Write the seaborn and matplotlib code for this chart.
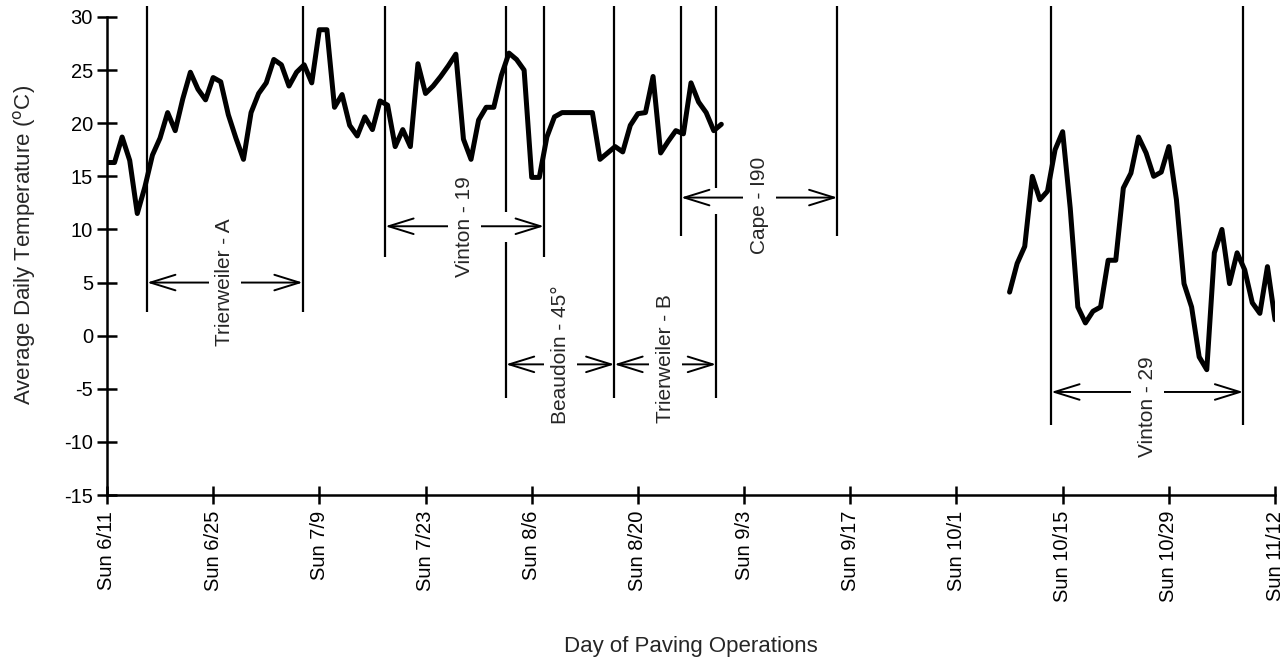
import pandas as pd
import matplotlib.pyplot as plt
import seaborn as sns

# daily mean temperature, two measuring periods (day 0 = Sun 6/11)
summer_first_day = 0
summer_temp = [16.3, 16.3, 18.7, 16.5, 11.5, 14.0, 17.0, 18.6, 21.0, 19.3,
               22.3, 24.8, 23.2, 22.2, 24.3, 23.9, 20.8, 18.6, 16.6, 21.0,
               22.8, 23.8, 26.0, 25.5, 23.5, 24.8, 25.5, 23.8, 28.8, 28.8,
               21.5, 22.7, 19.8, 18.8, 20.6, 19.4, 22.1, 21.7, 17.8, 19.4,
               17.8, 25.6, 22.8, 23.5, 24.4, 25.4, 26.5, 18.5, 16.6, 20.3,
               21.5, 21.5, 24.5, 26.6, 26.0, 25.0, 14.9, 14.9, 18.7, 20.6,
               21.0, 21.0, 21.0, 21.0, 21.0, 16.6, 17.2, 17.8, 17.3, 19.8,
               20.9, 21.0, 24.4, 17.2, 18.3, 19.3, 19.0, 23.8, 22.0, 21.0,
               19.3, 19.9]
fall_first_day = 119
fall_temp = [4.1, 6.8, 8.4, 15.0, 12.8, 13.6, 17.5, 19.2, 12.0, 2.7,
             1.2, 2.3, 2.7, 7.1, 7.1, 13.9, 15.3, 18.7, 17.2, 15.0,
             15.4, 17.8, 12.8, 4.9, 2.7, -2.0, -3.2, 7.8, 10.0, 4.9,
             7.8, 6.2, 3.1, 2.1, 6.5, 1.5]

tick_days = [0, 14, 28, 42, 56, 70, 84, 98, 112, 126, 140, 154]
tick_labels = ['Sun 6/11', 'Sun 6/25', 'Sun 7/9', 'Sun 7/23', 'Sun 8/6',
               'Sun 8/20', 'Sun 9/3', 'Sun 9/17', 'Sun 10/1', 'Sun 10/15',
               'Sun 10/29', 'Sun 11/12']

# paving jobs: name, first day, last day, level of the arrow (°C)
job_names = ['Trierweiler - A', 'Vinton - 19', 'Beaudoin - 45°',
             'Trierweiler - B', 'Cape - I90', 'Vinton - 29']
job_start = [5.3, 36.7, 52.6, 66.9, 75.7, 124.5]
job_end = [25.8, 57.6, 66.9, 80.3, 96.3, 149.8]
job_level = [5.0, 10.3, -2.7, -2.7, 13.0, -5.3]
label_level = [5.0, 10.3, -1.8, -2.2, 12.3, -6.7]

# marker lines at job boundaries (day, top, bottom in °C)
mark_day = [5.3, 25.8, 36.7, 52.6, 52.6, 57.6, 66.9, 75.7, 80.3, 80.3,
            96.3, 124.5, 149.8]
mark_top = [31.0, 31.0, 31.0, 31.0, 8.8, 31.0, 31.0, 31.0, 31.0, 11.5,
            31.0, 31.0, 31.0]
mark_bottom = [2.2, 2.2, 7.4, 11.6, -5.9, 7.4, -5.9, 9.4, 13.9, -5.9,
               9.4, -8.4, -8.4]


def build_frame():
    rows = []
    for seg, (first, temps) in enumerate([(summer_first_day, summer_temp),
                                          (fall_first_day, fall_temp)]):
        for i, t in enumerate(temps):
            rows.append({'day': first + i, 'temp': t, 'segment': seg})
    return pd.DataFrame(rows)


sns.set_style('ticks')
plt.rcParams['font.family'] = ['Liberation Sans', 'DejaVu Sans']
plt.rcParams['axes.unicode_minus'] = False

df = build_frame()

fig = plt.figure(figsize=(12.87, 6.61), dpi=100)
ax = fig.add_axes([0.0831, 0.2511, 0.9076, 0.7232])

sns.lineplot(data=df, x='day', y='temp', units='segment', estimator=None,
             color='black', linewidth=3.6, ax=ax)

ax.vlines(mark_day, mark_bottom, mark_top, colors='black', linewidth=1.6,
          clip_on=False)

for name, x0, x1, lvl, tl in zip(job_names, job_start, job_end, job_level,
                                 label_level):
    ax.annotate('', xy=(x1, lvl), xytext=(x0, lvl),
                arrowprops=dict(arrowstyle='<->,head_length=0.9,head_width=0.28',
                                mutation_scale=20, lw=1.4, color='black',
                                shrinkA=0, shrinkB=0))
    ax.text((x0 + x1) / 2, tl, name, rotation=90, ha='center', va='center',
            fontsize=15, bbox=dict(facecolor='white', edgecolor='none', pad=5))

ax.set_xlim(0, 154)
ax.set_ylim(-15, 30)
ax.set_yticks(range(-15, 31, 5))
ax.set_xticks(tick_days)
ax.set_xticklabels(tick_labels, rotation=90)

ax.tick_params(axis='both', direction='inout', width=1.8, colors='black',
               labelsize=14.5)
ax.tick_params(axis='y', length=14, pad=3)
ax.tick_params(axis='x', length=13, pad=5)

for side in ['top', 'right']:
    ax.spines[side].set_visible(False)
for side in ['left', 'bottom']:
    ax.spines[side].set_linewidth(1.8)
    ax.spines[side].set_color('black')

ax.set_xlabel('Day of Paving Operations', fontsize=16, labelpad=24)
ax.set_ylabel(r'Average Daily Temperature ($^{\mathrm{o}}$C)', fontsize=16)
ax.yaxis.set_label_coords(-0.059, 0.523)

fig.savefig('out.png', dpi=100)
